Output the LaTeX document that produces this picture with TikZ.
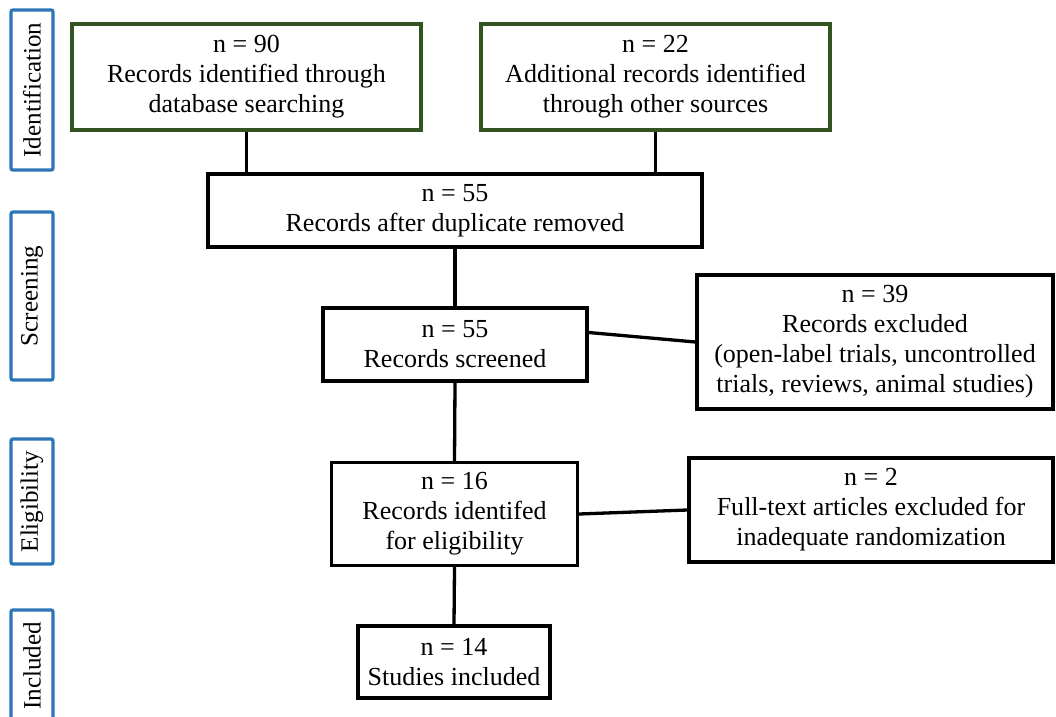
\documentclass[tikz,border=0pt]{standalone}
\usepackage{fontspec}
\setmainfont{Liberation Serif}
\usetikzlibrary{positioning,calc}
\newlength\px
\setlength\px{0.025cm}
\definecolor{boxgreen}{RGB}{50,84,32}
\definecolor{sideblue}{RGB}{46,117,182}
\tikzset{
  box/.style={rectangle, draw=black, line width=3.3\px, fill=white, align=center, inner sep=0pt, font=\fontsize{18.5}{21.3}\selectfont},
  srcbox/.style={box, draw=boxgreen},
  phase/.style={rectangle, draw=sideblue, line width=3.3\px, rounded corners=2\px, inner sep=0pt, minimum height=42\px, rotate=90, font=\fontsize{17.8}{20}\selectfont},
  link/.style={line width=3.3\px, black}
}
\begin{document}
\begin{tikzpicture}[x=0.025cm, y=-0.025cm]
\useasboundingbox (0,0) rectangle (1056,716);

% --- Phase labels ---
\node[phase, minimum width=160\px] (pIdent) at (32,90) {Identification};
\node[phase, minimum width=168\px] (pScreen) at (32,296) {Screening};
\node[phase, minimum width=125\px] (pElig) at (32,501.5) {Eligibility};
\node[phase, minimum width=112\px] (pIncl) at (32,666) {Included};

% --- Identification ---
\node[srcbox, minimum width=349\px, minimum height=106\px] (dbase) at (246.5,77) {n = 90\\Records identified through\\database searching};
\node[srcbox, minimum width=349\px, minimum height=106\px] (other) at (655.5,77) {n = 22\\Additional records identified\\through other sources};

% --- Screening ---
\node[box, minimum width=494\px, minimum height=73\px] (dedup) at (455,210.5) {n = 55\\Records after duplicate removed};
\node[box, minimum width=264\px, minimum height=73\px] (screen) at (455,344.5) {n = 55\\Records screened};
\node[box, minimum width=356\px, minimum height=134\px] (excl) at (875,342) {n = 39\\Records excluded\\(open-label trials, uncontrolled\\trials, reviews, animal studies)};

% --- Eligibility ---
\node[box, minimum width=246\px, minimum height=103\px] (elig) at (454.5,514) {n = 16\\Records identifed\\for eligibility};
\node[box, minimum width=364\px, minimum height=104\px] (fulltext) at (871,510) {n = 2\\Full-text articles excluded for\\inadequate randomization};

% --- Included ---
\node[box, minimum width=192\px, minimum height=72\px] (incl) at (454,662) {n = 14\\Studies included};

% Connections
\draw[link] (dbase.south) -- (dbase.south |- dedup.north);
\draw[link] (other.south) -- (other.south |- dedup.north);
\draw[link] (dedup.south) -- (screen.north);
\draw[link] (screen.south) -- (elig.north);
\draw[link] (elig.south) -- (incl.north);
\draw[link] ($(screen.east)+(0,-12)$) -- (excl.west);
\draw[link] (elig.east) -- (fulltext.west);

\end{tikzpicture}
\end{document}
